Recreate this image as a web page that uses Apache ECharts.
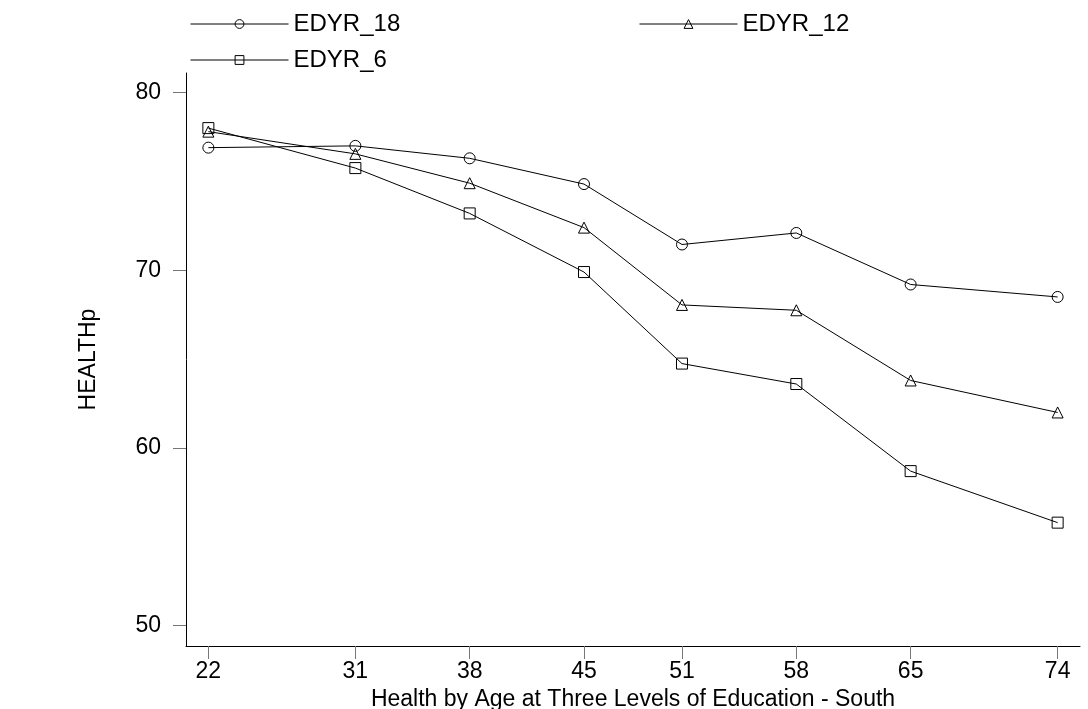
<!DOCTYPE html>
<html>
<head>
<meta charset="utf-8">
<script src="https://cdn.jsdelivr.net/npm/echarts@6/dist/echarts.min.js"></script>
<style>
html,body{margin:0;padding:0;background:#fff;}
#main{width:1088px;height:709px;}
</style>
</head>
<body>
<div id="main"></div>
<script>
var ages = [22, 31, 38, 45, 51, 58, 65, 74];
var edyr18 = [76.9, 77.0, 76.3, 74.85, 71.45, 72.1, 69.2, 68.5];
var edyr12 = [77.8, 76.55, 74.9, 72.4, 68.05, 67.75, 63.8, 62.0];
var edyr6 = [78.0, 75.75, 73.2, 69.9, 64.75, 63.6, 58.7, 55.8];
var yTicks = [50, 60, 70, 80];

var chart = echarts.init(document.getElementById('main'));
var font = 'Liberation Sans, Arial, sans-serif';

function pairs(vals){
	var out = [];
	for(var i=0;i<ages.length;i++){
		out.push([ages[i], vals[i]]);
	}
	return out;
}
function mk(name, vals, sym, size){
	return {
		name: name,
		type: 'line',
		data: pairs(vals),
		symbol: sym,
		symbolSize: size,
		showAllSymbol: true,
		lineStyle: {color: '#000', width: 1},
		itemStyle: {color: 'transparent', borderColor: '#000', borderWidth: 1},
		emphasis: {disabled: true},
		animation: false
	};
}
function leg(name, left, top){
	return {
		data: [name],
		left: left,
		top: top,
		itemWidth: 98,
		itemHeight: 11,
		itemStyle: {color: 'transparent', borderColor: '#000', borderWidth: 1},
		lineStyle: {width: 1, color: '#000'},
		textStyle: {fontFamily: font, fontSize: 24, color: '#000'},
		selectedMode: false
	};
}

var option = {
	backgroundColor: '#fff',
	legend: [
		leg('EDYR_18', 185, 7),
		leg('EDYR_12', 634, 7),
		leg('EDYR_6', 185, 43)
	],
	grid: {left: 186, right: 8, top: 73, bottom: 63, containLabel: false, outerBoundsMode: 'none'},
	xAxis: {
		type: 'value',
		min: 20.63,
		max: 75.37,
		name: 'Health by Age at Three Levels of Education - South',
		nameLocation: 'middle',
		nameGap: 37,
		nameTextStyle: {fontFamily: font, fontSize: 23, color: '#000'},
		axisLine: {lineStyle: {color: '#000', width: 1}},
		axisTick: {show: true, length: 13, customValues: ages, lineStyle: {color: '#777'}},
		axisLabel: {customValues: ages, margin: 14, fontFamily: font, fontSize: 23, color: '#000'},
		splitLine: {show: false}
	},
	yAxis: {
		type: 'value',
		min: 48.86,
		max: 81.1,
		name: 'HEALTHp',
		nameLocation: 'middle',
		nameGap: 86,
		nameTextStyle: {fontFamily: font, fontSize: 23, color: '#000'},
		axisLine: {show: true, lineStyle: {color: '#000', width: 1}},
		axisTick: {show: true, length: 13, customValues: yTicks, lineStyle: {color: '#777'}},
		axisLabel: {customValues: yTicks, margin: 25, fontFamily: font, fontSize: 23, color: '#000'},
		splitLine: {show: false}
	},
	series: [
		mk('EDYR_18', edyr18, 'circle', 11),
		mk('EDYR_12', edyr12, 'triangle', 11),
		mk('EDYR_6', edyr6, 'rect', 11)
	]
};
chart.setOption(option);
</script>
</body>
</html>
